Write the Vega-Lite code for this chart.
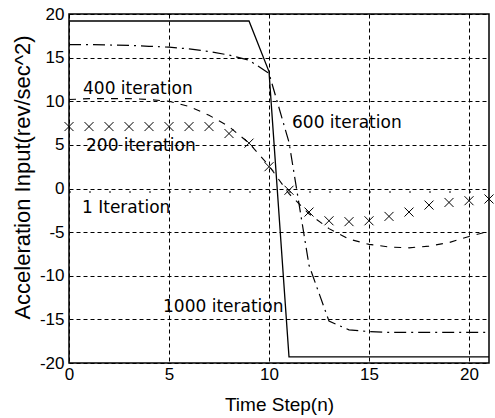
{
  "$schema": "https://vega.github.io/schema/vega-lite/v6.json",
  "autosize": {"type": "none"},
  "padding": {"left": 69, "top": 14, "right": 6, "bottom": 55},
  "width": 420,
  "height": 349,
  "background": "white",
  "config": {
    "view": {"stroke": "black", "strokeWidth": 1.5},
    "axis": {
      "labelFont": "Liberation Sans",
      "titleFont": "Liberation Sans",
      "labelFontSize": 17,
      "titleFontSize": 19,
      "titleFontWeight": "normal",
      "labelColor": "black",
      "titleColor": "black",
      "domain": false,
      "ticks": false,
      "tickSize": 0,
      "grid": true,
      "gridColor": "black",
      "gridOpacity": 1,
      "gridWidth": 1,
      "gridDash": [4, 3],
      "labelExpr": "replace(datum.label, '\u2212', '-')"
    }
  },
  "datasets": {
    "curves": [
      {"n": 0, "v": 19.2, "s": "1000"}, {"n": 1, "v": 19.2, "s": "1000"}, {"n": 2, "v": 19.2, "s": "1000"},
      {"n": 3, "v": 19.2, "s": "1000"}, {"n": 4, "v": 19.2, "s": "1000"}, {"n": 5, "v": 19.2, "s": "1000"},
      {"n": 6, "v": 19.2, "s": "1000"}, {"n": 7, "v": 19.2, "s": "1000"}, {"n": 8, "v": 19.2, "s": "1000"},
      {"n": 9, "v": 19.2, "s": "1000"}, {"n": 10, "v": 13.4, "s": "1000"}, {"n": 11, "v": -19.3, "s": "1000"},
      {"n": 12, "v": -19.3, "s": "1000"}, {"n": 13, "v": -19.3, "s": "1000"}, {"n": 14, "v": -19.3, "s": "1000"},
      {"n": 15, "v": -19.3, "s": "1000"}, {"n": 16, "v": -19.3, "s": "1000"}, {"n": 17, "v": -19.3, "s": "1000"},
      {"n": 18, "v": -19.3, "s": "1000"}, {"n": 19, "v": -19.3, "s": "1000"}, {"n": 20, "v": -19.3, "s": "1000"},
      {"n": 21, "v": -19.3, "s": "1000"},
      {"n": 0, "v": 16.5, "s": "600"}, {"n": 1, "v": 16.5, "s": "600"}, {"n": 2, "v": 16.45, "s": "600"},
      {"n": 3, "v": 16.4, "s": "600"}, {"n": 4, "v": 16.3, "s": "600"}, {"n": 5, "v": 16.2, "s": "600"},
      {"n": 6, "v": 16.0, "s": "600"}, {"n": 7, "v": 15.7, "s": "600"}, {"n": 8, "v": 15.3, "s": "600"},
      {"n": 9, "v": 14.7, "s": "600"}, {"n": 10, "v": 13.2, "s": "600"}, {"n": 11, "v": 5.3, "s": "600"},
      {"n": 12, "v": -8.8, "s": "600"}, {"n": 13, "v": -15.2, "s": "600"}, {"n": 14, "v": -16.2, "s": "600"},
      {"n": 15, "v": -16.4, "s": "600"}, {"n": 16, "v": -16.5, "s": "600"}, {"n": 17, "v": -16.5, "s": "600"},
      {"n": 18, "v": -16.5, "s": "600"}, {"n": 19, "v": -16.5, "s": "600"}, {"n": 20, "v": -16.5, "s": "600"},
      {"n": 21, "v": -16.5, "s": "600"},
      {"n": 0, "v": 10.2, "s": "400"}, {"n": 1, "v": 10.3, "s": "400"}, {"n": 2, "v": 10.3, "s": "400"},
      {"n": 3, "v": 10.3, "s": "400"}, {"n": 4, "v": 10.2, "s": "400"}, {"n": 5, "v": 10.0, "s": "400"},
      {"n": 6, "v": 9.4, "s": "400"}, {"n": 7, "v": 8.4, "s": "400"}, {"n": 8, "v": 7.1, "s": "400"},
      {"n": 9, "v": 5.2, "s": "400"}, {"n": 10, "v": 2.6, "s": "400"}, {"n": 11, "v": -0.6, "s": "400"},
      {"n": 12, "v": -2.9, "s": "400"}, {"n": 13, "v": -4.6, "s": "400"}, {"n": 14, "v": -5.8, "s": "400"},
      {"n": 15, "v": -6.4, "s": "400"}, {"n": 16, "v": -6.7, "s": "400"}, {"n": 17, "v": -6.8, "s": "400"},
      {"n": 18, "v": -6.6, "s": "400"}, {"n": 19, "v": -6.2, "s": "400"}, {"n": 20, "v": -5.5, "s": "400"},
      {"n": 21, "v": -4.9, "s": "400"},
      {"n": 0, "v": 7.1, "s": "200"}, {"n": 1, "v": 7.1, "s": "200"}, {"n": 2, "v": 7.1, "s": "200"},
      {"n": 3, "v": 7.1, "s": "200"}, {"n": 4, "v": 7.1, "s": "200"}, {"n": 5, "v": 7.1, "s": "200"},
      {"n": 6, "v": 7.1, "s": "200"}, {"n": 7, "v": 7.1, "s": "200"}, {"n": 8, "v": 6.3, "s": "200"},
      {"n": 9, "v": 5.2, "s": "200"}, {"n": 10, "v": 2.5, "s": "200"}, {"n": 11, "v": -0.2, "s": "200"},
      {"n": 12, "v": -2.7, "s": "200"}, {"n": 13, "v": -3.7, "s": "200"}, {"n": 14, "v": -3.8, "s": "200"},
      {"n": 15, "v": -3.7, "s": "200"}, {"n": 16, "v": -3.2, "s": "200"}, {"n": 17, "v": -2.7, "s": "200"},
      {"n": 18, "v": -1.9, "s": "200"}, {"n": 19, "v": -1.6, "s": "200"}, {"n": 20, "v": -1.4, "s": "200"},
      {"n": 21, "v": -1.2, "s": "200"},
      {"n": 0, "v": -0.4, "s": "1"}, {"n": 21, "v": -0.4, "s": "1"}
    ],
    "labels": [
      {"n": 0.7, "v": 11.4, "t": "400 iteration"},
      {"n": 0.85, "v": 4.9, "t": "200 iteration"},
      {"n": 0.65, "v": -2.2, "t": "1 Iteration"},
      {"n": 11.15, "v": 7.5, "t": "600 iteration"},
      {"n": 4.7, "v": -13.6, "t": "1000 iteration"}
    ]
  },
  "encoding": {
    "x": {"field": "n", "type": "quantitative", "scale": {"domain": [0, 21], "nice": false, "zero": false},
          "axis": {"values": [0, 5, 10, 15, 20], "title": "Time Step(n)", "labelPadding": 3, "titlePadding": 13, "labelFlush": false}},
    "y": {"field": "v", "type": "quantitative", "scale": {"domain": [-20, 20], "nice": false},
          "axis": {"values": [-20, -15, -10, -5, 0, 5, 10, 15, 20], "title": "Acceleration Input(rev/sec^2)", "titleFontSize": 22, "titleY": 163, "labelPadding": 5, "titlePadding": 5}}
  },
  "layer": [
    {"data": {"name": "curves"}, "transform": [{"filter": "datum.s === '1'"}],
     "mark": {"type": "line", "color": "black", "strokeWidth": 1.2, "strokeDash": [2, 18]}},
    {"data": {"name": "curves"}, "transform": [{"filter": "datum.s === '1000'"}],
     "mark": {"type": "line", "color": "black", "strokeWidth": 1.3}},
    {"data": {"name": "curves"}, "transform": [{"filter": "datum.s === '600'"}],
     "mark": {"type": "line", "color": "black", "strokeWidth": 1.2, "strokeDash": [12, 5, 2, 5]}},
    {"data": {"name": "curves"}, "transform": [{"filter": "datum.s === '400'"}],
     "mark": {"type": "line", "color": "black", "strokeWidth": 1.1, "strokeDash": [7, 7]}},
    {"data": {"name": "curves"}, "transform": [{"filter": "datum.s === '200'"}],
     "mark": {"type": "point", "shape": "M-1,-1L1,1M-1,1L1,-1", "filled": false, "color": "black", "strokeWidth": 1, "size": 81, "opacity": 1}},
    {"data": {"name": "labels"},
     "mark": {"type": "text", "align": "left", "baseline": "middle", "font": "DejaVu Sans", "fontSize": 17, "color": "black"},
     "encoding": {"text": {"field": "t"}}}
  ]
}
